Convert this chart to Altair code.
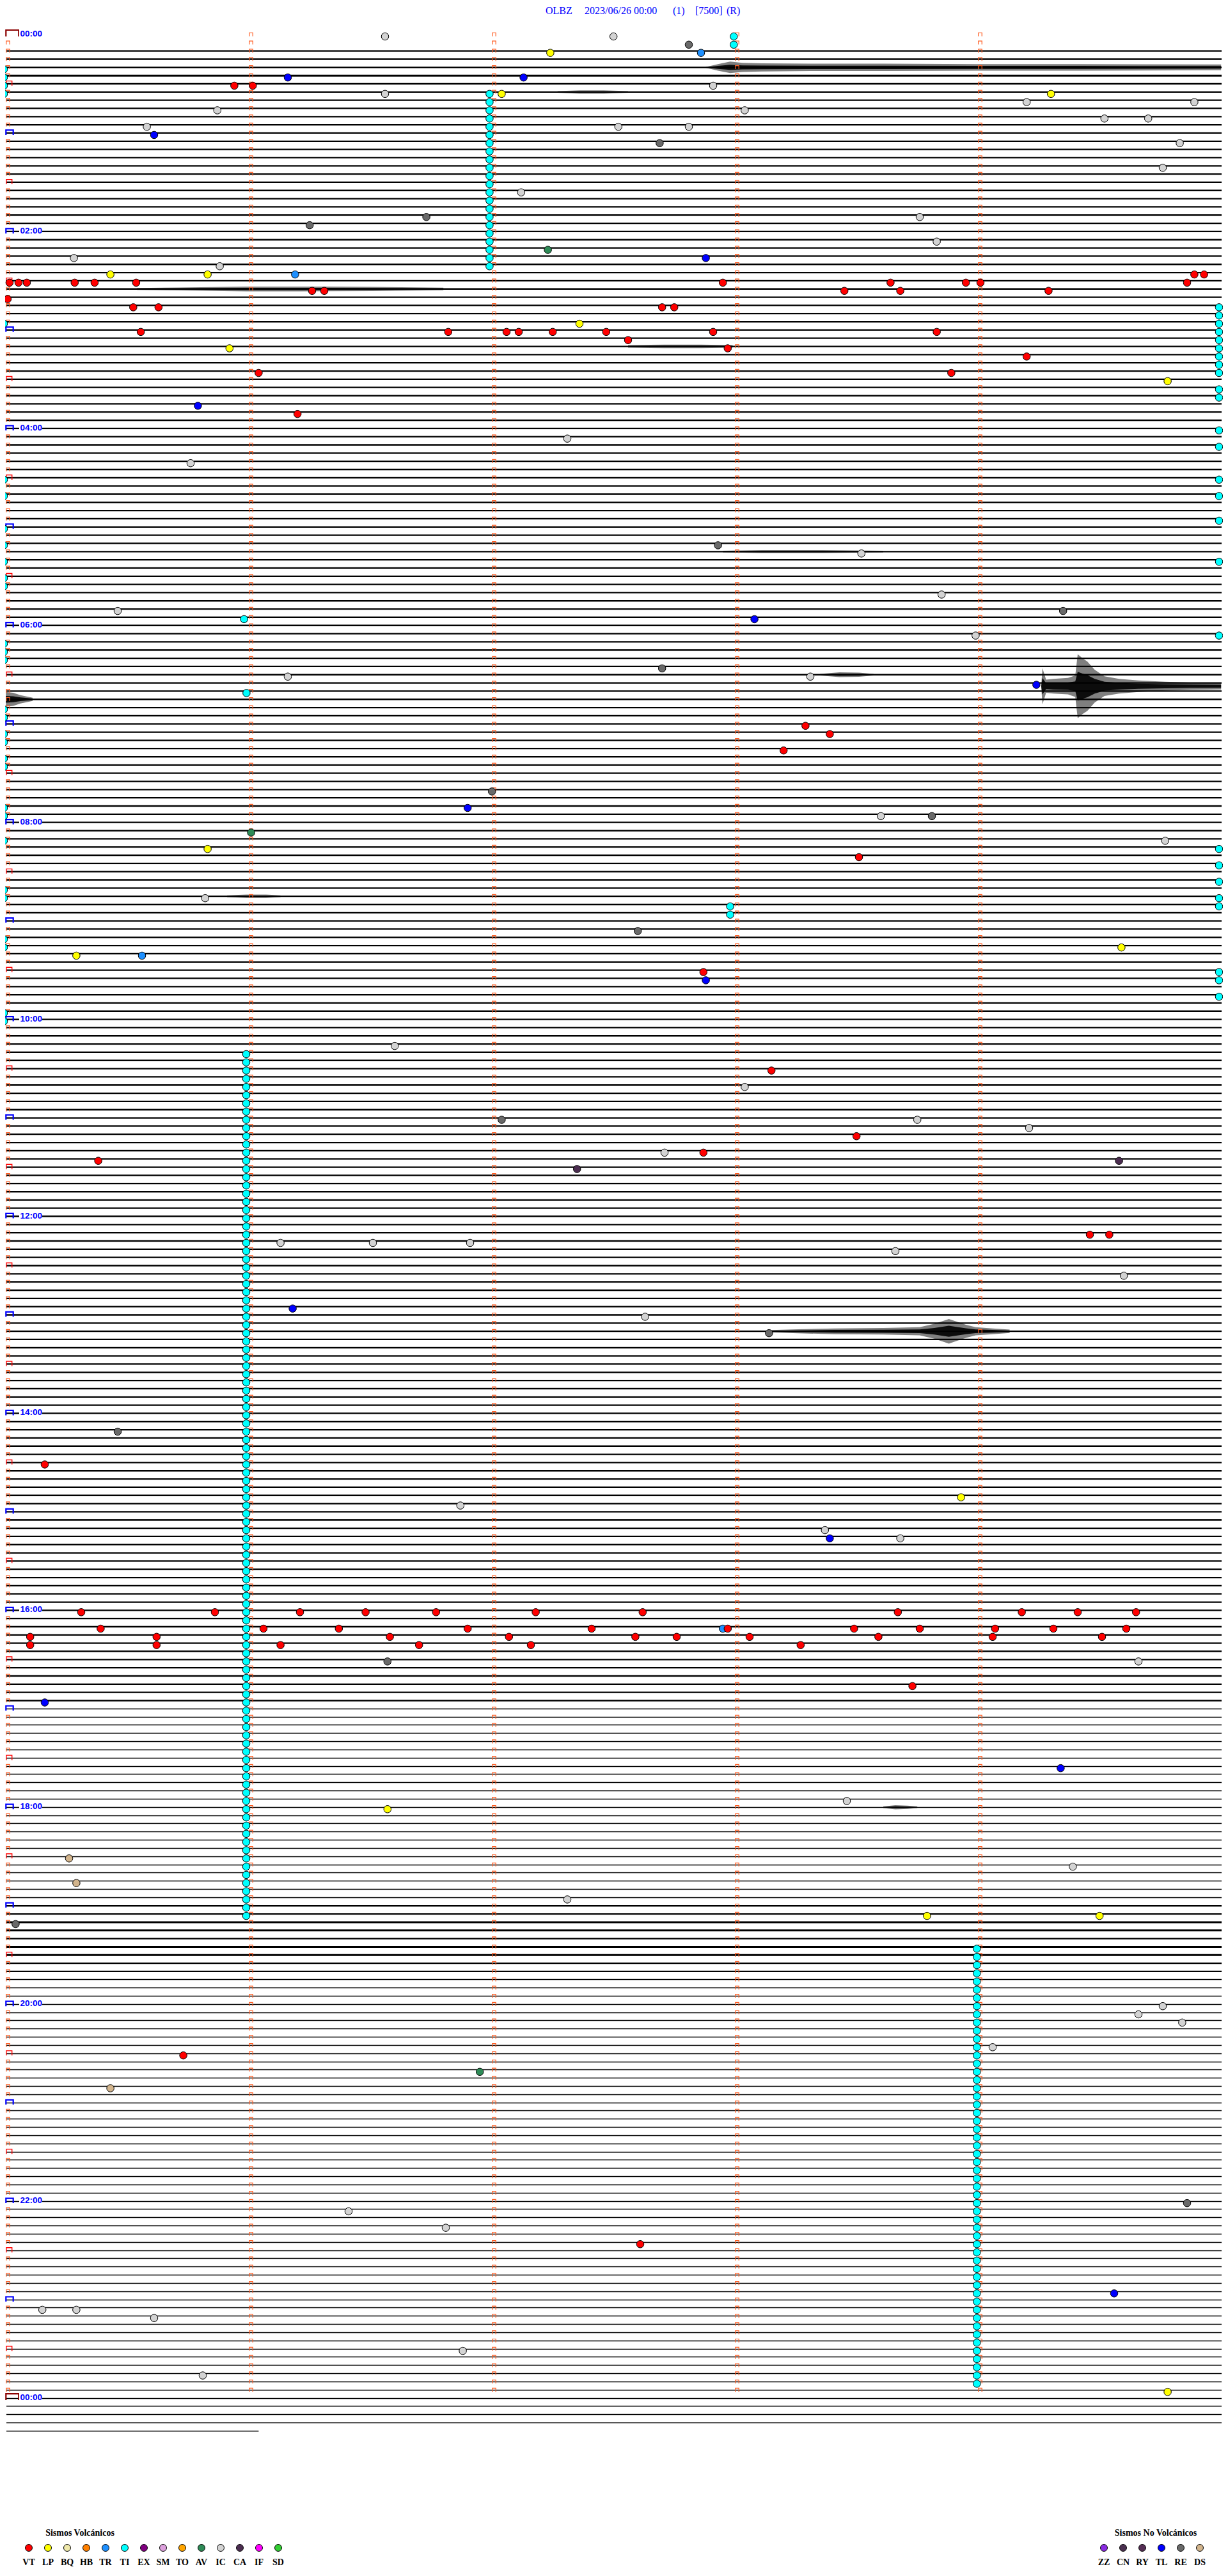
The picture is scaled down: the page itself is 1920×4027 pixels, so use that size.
import altair as alt
import pandas as pd
import numpy as np

# ------------------------------------------------------------------ data
TITLE_PARTS = ["OLBZ", "2023/06/26 00:00", "(1)", "[7500]", "(R)"]
HOUR_LABELS = ["00:00", "02:00", "04:00", "06:00", "08:00", "10:00", "12:00",
               "14:00", "16:00", "18:00", "20:00", "22:00", "00:00"]
N_MARK_ROWS = 288          # 5-minute rows carrying minute ticks
TRACE_FIRST, TRACE_LAST = 2, 292
LAST_ROW_END_MIN = 1.03
QUIET_ROWS = list(range(204, 228)) + list(range(237, 293))
HEAVY_ROWS = [5, 230, 231, 233, 234]

VOLC_TYPES = ["VT", "LP", "BQ", "HB", "TR", "TI", "EX", "SM", "TO", "AV", "IC", "CA", "IF", "SD"]
VOLC_COLORS = ["#FF0000", "#FFFF00", "#EEE8AA", "#FF8000", "#1E90FF", "#00FFFF", "#800080",
               "#DDA0DD", "#FFA500", "#2E8B57", "#D3D3D3", "#4B2D50", "#FF00FF", "#32CD32"]
NOVOLC_TYPES = ["ZZ", "CN", "RY", "TL", "RE", "DS"]
NOVOLC_COLORS = ["#8A2BE2", "#4B3050", "#552E55", "#0000FF", "#696969", "#D2B48C"]

# single picks: row (5-min line index), minute within line, type
ev_row = [0, 0, 1, 2, 2, 5, 5, 6, 6, 6, 7, 7, 7, 8, 8, 9, 9, 10, 10, 11, 11, 11, 12, 13, 13,
          16, 19, 22, 22, 23, 25, 26, 27, 27, 28, 29, 29, 29, 29, 29,
          30, 30, 30, 30, 30, 30, 31, 30, 30, 30, 30, 30, 31, 31, 31, 31, 32,
          33, 33, 33, 33, 35, 36, 36, 36, 36, 36, 36, 36, 36, 37, 38, 38, 39, 41, 41, 42, 45, 46,
          49, 52, 62, 63, 68, 70, 71, 70, 73, 77, 78, 78, 79, 84, 85, 87,
          92, 94, 95, 95, 97, 99, 100, 98, 105, 109, 112, 112, 111, 114, 115,
          123, 126, 128, 132, 132, 134, 133, 137, 138, 136, 136, 137, 146, 146, 151, 147, 147, 147,
          148, 155, 156, 158, 170, 174, 178, 179, 182, 183, 183,
          192, 194, 195, 196, 195, 196, 192, 194, 196, 192, 194, 192, 195, 196, 192, 194, 195, 196,
          192, 194, 195, 192, 195, 194, 194, 195, 196, 194, 195, 192, 194, 194, 195, 192, 194, 192,
          195, 194, 198, 192, 198, 201, 203, 211, 216, 215, 222, 225, 223, 227, 229, 229, 230,
          245, 241, 240, 242, 246, 248, 250, 265, 267, 264, 269, 277, 277, 278, 285, 282, 275, 287]
ev_min = [1.55, 2.49, 2.80, 2.23, 2.85, 1.15, 2.12, 0.93, 1.006, 2.90, 2.03, 1.55, 4.29, 4.19, 4.88,
          0.86, 3.03, 4.51, 4.69, 0.57, 2.80, 2.51, 0.60, 2.68, 4.82,
          4.75, 2.11, 1.72, 3.75, 1.24, 3.82, 2.22, 0.27, 2.87, 0.87, 0.42, 0.82, 1.18, 4.88, 4.92,
          0.005, 0.042, 0.076, 0.273, 0.355, 0.526, 1.25, 2.94, 3.63, 3.94, 4.00, 4.85,
          3.44, 3.67, 4.28, 1.30, -0.003,
          0.514, 0.618, 2.69, 2.74, 2.35, 0.545, 1.81, 2.05, 2.10, 2.24, 2.46, 2.90, 3.82,
          2.55, 2.96, 0.91, 4.19, 1.03, 3.88, 4.77, 0.78, 1.19,
          2.30, 0.75, 2.92, 3.51, 3.84, 0.45, 3.07, 4.34, 3.98, 2.69, 3.30, 1.15, 4.23, 3.28, 3.38, 3.19,
          1.99, 1.89, 3.59, 3.80, 0.999, 0.82, 3.50, 4.76, 0.81, 2.59, 0.28, 0.55, 4.58, 2.86, 2.87,
          1.59, 3.14, 3.03, 2.03, 3.74, 3.49, 4.20, 0.37, 2.34, 2.70, 2.86, 4.57, 4.45, 4.53, 4.59,
          1.12, 1.50, 1.90, 3.65, 1.17, 2.62, 3.13, 0.45, 0.15, 3.92, 1.86, 3.36, 3.38, 3.67,
          0.30, 0.38, 0.09, 0.09, 0.61, 0.61, 0.85, 1.05, 1.12, 1.20, 1.36, 1.47, 1.57, 1.69,
          1.76, 1.89, 2.06, 2.15, 2.17, 2.40, 2.58, 2.61, 2.75, 2.94, 2.96, 3.05, 3.26, 3.48,
          3.58, 3.66, 3.75, 4.06, 4.05, 4.17, 4.30, 4.40, 4.50, 4.60, 4.65, 4.64, 1.56,
          3.72, 0.15, 4.33, 1.56, 3.45, 0.25, 0.28, 4.38, 2.30, 3.78, 4.49, 0.03,
          4.05, 4.65, 4.75, 4.83, 0.72, 1.94, 0.42, 1.40, 1.80, 4.85, 2.60, 0.14, 0.28, 0.60, 0.80,
          1.87, 4.55, 4.77]
ev_type = ["IC", "IC", "RE", "LP", "TR", "TL", "TL", "VT", "VT", "IC", "LP", "IC", "LP", "IC", "IC",
           "IC", "IC", "IC", "IC", "IC", "IC", "IC", "TL", "RE", "IC",
           "IC", "IC", "RE", "IC", "RE", "IC", "AV", "IC", "TL", "IC", "LP", "LP", "TR", "VT", "VT",
           "VT", "VT", "VT", "VT", "VT", "VT", "VT", "VT", "VT", "VT", "VT", "VT",
           "VT", "VT", "VT", "VT", "VT",
           "VT", "VT", "VT", "VT", "LP", "VT", "VT", "VT", "VT", "VT", "VT", "VT", "VT",
           "VT", "VT", "LP", "VT", "VT", "VT", "LP", "TL", "VT",
           "IC", "IC", "RE", "IC", "IC", "IC", "TL", "RE", "IC", "RE", "IC", "IC", "TL", "VT", "VT", "VT",
           "RE", "TL", "IC", "RE", "AV", "LP", "VT", "IC", "IC", "RE", "LP", "TR", "LP", "VT", "TL",
           "IC", "VT", "IC", "RE", "IC", "VT", "IC", "VT", "CA", "IC", "VT", "CA", "VT", "VT", "IC",
           "IC", "IC", "IC", "IC", "TL", "IC", "RE", "RE", "VT", "LP", "IC", "IC", "TL", "IC",
           "VT", "VT", "VT", "VT", "VT", "VT", "VT", "VT", "VT", "VT", "VT", "VT", "VT", "VT",
           "VT", "VT", "VT", "VT", "VT", "VT", "VT", "VT", "VT", "TR", "VT", "VT", "VT", "VT",
           "VT", "VT", "VT", "VT", "VT", "VT", "VT", "VT", "VT", "VT", "IC", "VT", "RE",
           "VT", "TL", "TL", "LP", "IC", "DS", "DS", "IC", "IC", "LP", "LP", "RE",
           "IC", "IC", "IC", "IC", "VT", "AV", "DS", "IC", "IC", "RE", "VT", "IC", "IC", "IC", "IC",
           "IC", "TL", "LP"]

# runs of TI picks stacked on consecutive lines: minute, first row, last row
ti_run_min = [2.985, 1.98, 0.979, 3.985, 2.97]
ti_run_first = [0, 7, 124, 233, 106]
ti_run_last = [1, 28, 229, 286, 107]
# TI picks at the left and right edges of the lines
ti_left_rows = [4, 5, 6, 7, 35, 54, 56, 60, 62, 64, 66, 67, 74, 75, 76, 82, 83, 85, 86, 88, 89,
                94, 95, 98, 104, 105, 110, 111, 119, 120]
ti_right_rows = [33, 34, 35, 36, 37, 38, 39, 40, 41, 43, 44, 48, 50, 54, 56, 59, 64, 73, 99, 101,
                 103, 105, 106, 114, 115, 117]
ti_extra_row = [71, 80]
ti_extra_min = [0.97, 0.98]

# signal bursts: envelope (minute, half amplitude in line heights) on a line
burst_row = [4.0, 79.4, 81.0, 158.0, 31.0, 38.0, 7.0, 63.0, 78.0, 105.0, 216.0]
burst_min = [
    [2.87, 2.92, 2.97, 3.02, 3.10, 3.30, 3.60, 4.00, 4.40, 4.99],
    [4.25, 4.255, 4.27, 4.30, 4.36, 4.39, 4.40, 4.42, 4.44, 4.47, 4.51, 4.57, 4.65, 4.76, 4.86, 4.99],
    [-0.01, 0.02, 0.05, 0.10],
    [3.14, 3.25, 3.40, 3.60, 3.75, 3.81, 3.87, 3.90, 3.94, 3.98, 4.05, 4.12],
    [0.53, 0.70, 0.98, 1.20, 1.50, 1.79],
    [2.55, 2.70, 2.85, 2.98],
    [2.26, 2.35, 2.45, 2.55],
    [2.94, 3.10, 3.35, 3.60],
    [3.34, 3.42, 3.50, 3.56],
    [0.90, 0.98, 1.06, 1.12],
    [3.60, 3.65, 3.70, 3.74],
]
burst_amp = [
    [0.05, 0.4, 0.7, 0.55, 0.5, 0.45, 0.45, 0.4, 0.4, 0.35],
    [0.1, 2.2, 0.8, 0.9, 1.0, 1.3, 3.9, 3.4, 3.0, 2.0, 1.2, 0.9, 0.7, 0.55, 0.45, 0.4],
    [0.9, 0.8, 0.5, 0.2],
    [0.15, 0.25, 0.35, 0.4, 0.5, 0.9, 1.5, 1.2, 0.8, 0.5, 0.35, 0.2],
    [0.12, 0.18, 0.3, 0.3, 0.25, 0.15],
    [0.15, 0.22, 0.22, 0.15],
    [0.1, 0.2, 0.2, 0.1],
    [0.1, 0.18, 0.18, 0.1],
    [0.1, 0.3, 0.25, 0.1],
    [0.1, 0.2, 0.2, 0.1],
    [0.1, 0.25, 0.2, 0.1],
]

# ------------------------------------------------------------------ layout
W, H = 1904, 4011
PX_PER_MIN = 380.0
ROW_H = 12.83
X0_PAGE, Y0_PAGE = 13.0, 57.0
TRACE_OFF = -3.0 / ROW_H


def mx(px):
    return (px - X0_PAGE) / PX_PER_MIN


def ky(py):
    return (py - Y0_PAGE) / ROW_H


xs = alt.Scale(domain=[mx(8), mx(8 + W)], nice=False, zero=False)
ys = alt.Scale(domain=[ky(8), ky(8 + H)], nice=False, zero=False, reverse=True)
X = lambda f: alt.X(f, type="quantitative", scale=xs, axis=None)
Y = lambda f: alt.Y(f, type="quantitative", scale=ys, axis=None)

ALL_TYPES = VOLC_TYPES + NOVOLC_TYPES
ALL_COLORS = VOLC_COLORS + NOVOLC_COLORS
color_enc = alt.Color("type:N", scale=alt.Scale(domain=ALL_TYPES, range=ALL_COLORS), legend=None)

# traces (quiet lines snapped to the pixel grid so they render crisp)
tr_rows = np.arange(TRACE_FIRST, TRACE_LAST + 1)
trace_y, trace_w = [], []
for r in tr_rows:
    py = Y0_PAGE + ROW_H * r - 3.0
    if r in QUIET_ROWS:
        trace_y.append(ky(np.floor(py) + 0.5))
        trace_w.append(1.3)
    else:
        trace_y.append(ky(py))
        trace_w.append(3.0 if r in HEAVY_ROWS else 2.3)
traces = pd.DataFrame({
    "y": trace_y,
    "x0": mx(10),
    "x1": [LAST_ROW_END_MIN if r == TRACE_LAST else mx(1910) for r in tr_rows],
    "w": trace_w,
})
trace_layer = alt.Chart(traces).mark_rule(color="black").encode(
    x=X("x0"), x2="x1", y=Y("y"), size=alt.Size("w:Q", scale=None))

brows = []
for i, r in enumerate(burst_row):
    for m, a in zip(burst_min[i], burst_amp[i]):
        brows.append({"id": i, "m": m,
                      "lo": r + TRACE_OFF - a, "hi": r + TRACE_OFF + a,
                      "lo2": r + TRACE_OFF - 0.45 * a, "hi2": r + TRACE_OFF + 0.45 * a})
bdf = pd.DataFrame(brows)
burst_outer = alt.Chart(bdf).mark_area(
    color="black", orient="vertical", interpolate="linear", opacity=0.5).encode(
    x=X("m"), y=Y("lo"), y2="hi", detail="id:N")
burst_inner = alt.Chart(bdf).mark_area(
    color="black", orient="vertical", interpolate="linear", opacity=0.9).encode(
    x=X("m"), y=Y("lo2"), y2="hi2", detail="id:N")

# minute ticks (small orange brackets)
mk = []
for r in range(N_MARK_ROWS):
    for m in range(5):
        if m == 0 and r % 6 == 0:
            continue
        mk.append({"m": m - 0.5 / PX_PER_MIN, "y": r - 3.0 / ROW_H})
marker_layer = alt.Chart(pd.DataFrame(mk)).mark_point(
    shape="M-1,1L-1,-1L1,-1L1,1", filled=False, size=30, color="#FF5A1E",
    strokeWidth=1.2, opacity=1).encode(x=X("m"), y=Y("y"))

half_rows = [r for r in range(N_MARK_ROWS) if r % 12 == 6]
hour_rows = [r for r in range(N_MARK_ROWS) if r % 12 == 0 and r % 288 != 0]
half_layer = alt.Chart(pd.DataFrame({"m": mx(14.3), "y": np.array(half_rows) - 3.6 / ROW_H})).mark_point(
    shape="M-1,0.84L-1,-0.84L1,-0.84L1,0.84", filled=False, size=78, color="#FF0000",
    strokeWidth=1.4, opacity=1).encode(x=X("m"), y=Y("y"))
hour_layer = alt.Chart(pd.DataFrame({"m": mx(15), "y": np.array(hour_rows) - 3.8 / ROW_H})).mark_point(
    shape="M-1,0.66L-1,-0.66L1,-0.66L1,0.66", filled=False, size=130, color="#0000FF",
    strokeWidth=2.2, opacity=1).encode(x=X("m"), y=Y("y"))
day_layer = alt.Chart(pd.DataFrame({"m": mx(19.3), "y": np.array([0, 288]) - 5.0 / ROW_H})).mark_point(
    shape="M-1,0.5L-1,-0.5L1,-0.5L1,0.5", filled=False, size=400, color="#8B0000",
    strokeWidth=2.2, opacity=1).encode(x=X("m"), y=Y("y"))

# hour labels with white backing
lab = pd.DataFrame({"txt": HOUR_LABELS, "row": np.arange(len(HOUR_LABELS)) * 24})
lab["x0"], lab["x1"] = mx(30), mx(66)
lab["y0"], lab["y1"] = lab["row"] - 12.0 / ROW_H, lab["row"] + 1.0 / ROW_H
lab["m"] = mx(31.5)
lab_bg = alt.Chart(lab).mark_rect(color="white").encode(x=X("x0"), x2="x1", y=Y("y0"), y2="y1")
lab_txt = alt.Chart(lab).mark_text(
    align="left", baseline="alphabetic", font="Liberation Sans", fontWeight="bold",
    fontSize=13.5, color="#0000FF").encode(x=X("m"), y=Y("row"), text="txt:N")

# picks
ev = pd.DataFrame({"row": ev_row, "m": ev_min, "type": ev_type})
runs = []
for m, a, b in zip(ti_run_min, ti_run_first, ti_run_last):
    for r in range(a, b + 1):
        runs.append({"row": r, "m": m, "type": "TI"})
for r in ti_left_rows:
    runs.append({"row": r, "m": mx(6), "type": "TI"})
for r in ti_right_rows:
    runs.append({"row": r, "m": mx(1906), "type": "TI"})
for r, m in zip(ti_extra_row, ti_extra_min):
    runs.append({"row": r, "m": m, "type": "TI"})
ev = pd.concat([ev, pd.DataFrame(runs)], ignore_index=True)
ev_layer = alt.Chart(ev).mark_circle(
    size=132, stroke="black", strokeWidth=1, opacity=1).encode(
    x=X("m"), y=Y("row"), color=color_enc)

# title
title_df = pd.DataFrame({"txt": TITLE_PARTS,
                         "m": [mx(p) for p in [853, 914, 1052, 1087, 1136]],
                         "y": ky(22)})
title_layer = alt.Chart(title_df).mark_text(
    align="left", baseline="alphabetic", font="Liberation Serif", fontSize=16,
    color="#0000FF").encode(x=X("m"), y=Y("y"), text="txt:N")

# legends
leg = pd.DataFrame({
    "type": ALL_TYPES,
    "m": [mx(45 + 30 * i) for i in range(len(VOLC_TYPES))] +
         [mx(1726 + 30 * i) for i in range(len(NOVOLC_TYPES))],
})
leg["yc"] = ky(3983)
leg["yt"] = ky(4010)
leg_circ = alt.Chart(leg).mark_circle(size=120, stroke="black", strokeWidth=1, opacity=1).encode(
    x=X("m"), y=Y("yc"), color=color_enc)
leg_txt = alt.Chart(leg).mark_text(
    align="center", baseline="alphabetic", font="Liberation Serif", fontWeight="bold",
    fontSize=14, color="black").encode(x=X("m"), y=Y("yt"), text="type:N")
leg_head = pd.DataFrame({"txt": ["Sismos Volcánicos", "Sismos No Volcánicos"],
                         "m": [mx(125), mx(1807)], "y": ky(3964)})
leg_head_layer = alt.Chart(leg_head).mark_text(
    align="center", baseline="alphabetic", font="Liberation Serif", fontWeight="bold",
    fontSize=14, color="black").encode(x=X("m"), y=Y("y"), text="txt:N")

chart = alt.layer(
    trace_layer, burst_outer, burst_inner, marker_layer, half_layer, hour_layer, day_layer,
    lab_bg, lab_txt, ev_layer, title_layer, leg_circ, leg_txt, leg_head_layer
).properties(
    width=W, height=H, padding=0, background="white",
    autosize=alt.AutoSizeParams(type="none"),
).configure_view(stroke=None)

chart.save("out.html", embed_options={"renderer": "svg", "actions": False})
